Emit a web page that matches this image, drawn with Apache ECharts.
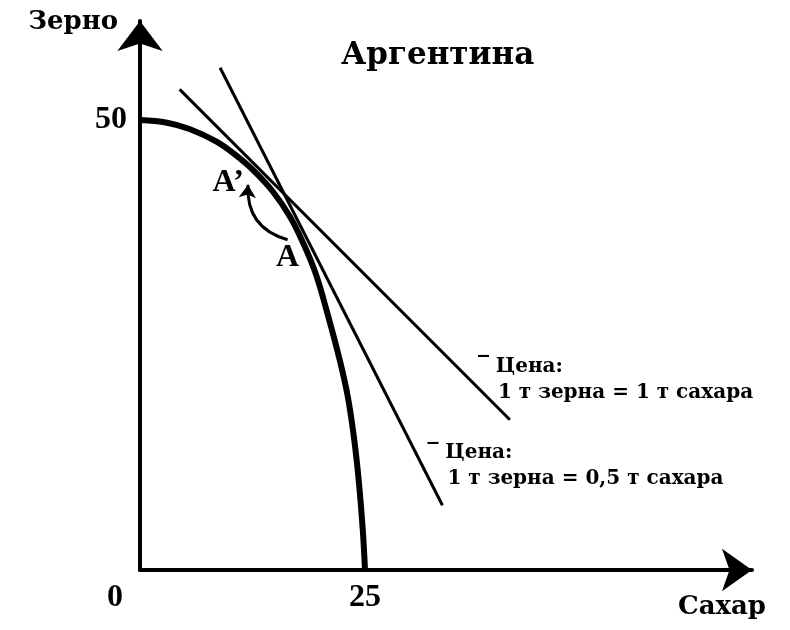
<!DOCTYPE html>
<html>
<head>
<meta charset="utf-8">
<script src="https://cdn.jsdelivr.net/npm/echarts@6/dist/echarts.min.js"></script>
<style>
html,body{margin:0;padding:0;background:#fff;}
#chart{width:790px;height:630px;}
</style>
</head>
<body>
<div id="chart"></div>
<script>
// Production possibility frontier (sugar, grain)
const ppfSugar = [0, 3, 5.5, 8.5, 10.5, 12.6, 14.8, 16.7, 18.1, 19.5, 20.8, 22.2, 23.1, 23.8, 24.3, 24.75, 25];
const ppfGrain = [50, 49.7, 49, 47.6, 46.2, 44.4, 42, 39.2, 36.4, 33, 28.6, 23.3, 19.2, 14.5, 10, 4.5, 0];
// Price lines: [start, end] as [sugar, grain]
const priceLine1 = [[4.4, 53.4], [41.1, 16.7]];   // 1 т зерна = 1 т сахара
const priceLine2 = [[8.9, 55.8], [33.6, 7.2]];    // 1 т зерна = 0,5 т сахара
const priceLabels = ['Цена:', '1 т зерна = 1 т сахара', 'Цена:', '1 т зерна = 0,5 т сахара'];
// Points A, A' labels and move arrow (A -> A')
const pointNames = ['A’', 'A'];
const pointPos = [[9.8, 43.0], [16.4, 34.7]];
const moveArrow = [[16.4, 36.7], [12.0, 42.8]];
// Axis tick labels
const xTicks = [0, 25];
const yTicks = [50];
const titleText = 'Аргентина';
const xName = 'Сахар';
const yName = 'Зерно';

const chart = echarts.init(document.getElementById('chart'));
const black = '#000';
const serifW = '"DejaVu Serif", serif';
const serifT = '"Liberation Serif", "Times New Roman", serif';

const ppfData = ppfSugar.map((x, i) => [x, ppfGrain[i]]);

function priceLabel(a, b, dx, dy) {
  return {
    show: true,
    position: [dx, dy],
    formatter: '{d|‾}{a| ' + a + '}\n{b|' + b + '}',
    rich: {
      d: {fontFamily: serifW, fontWeight: 'bold', fontSize: 22, lineHeight: 26, color: black},
      a: {fontFamily: serifW, fontWeight: 'bold', fontSize: 20, lineHeight: 26, color: black},
      b: {fontFamily: serifW, fontWeight: 'bold', fontSize: 20, lineHeight: 26, color: black, padding: [0, 0, 0, 20]}
    }
  };
}

chart.setOption({
  animation: false,
  backgroundColor: '#fff',
  title: {
    text: titleText,
    left: 336,
    top: 35,
    textStyle: {fontFamily: serifW, fontWeight: 'bold', fontSize: 31, color: black}
  },
  grid: {left: 140, right: 38, top: 21, bottom: 60, containLabel: false},
  xAxis: {
    type: 'value', min: 0, max: 68,
    name: xName, nameLocation: 'end', nameGap: 14,
    nameTextStyle: {fontFamily: serifW, fontWeight: 'bold', fontSize: 26, lineHeight: 26, color: black,
      align: 'right', verticalAlign: 'top', padding: [24, 0, 0, 0]},
    axisLine: {show: true, lineStyle: {color: black, width: 4}, symbol: ['none', 'arrow'], symbolSize: [32, 30]},
    axisTick: {show: false},
    splitLine: {show: false},
    axisLabel: {
      customValues: xTicks, margin: 12, color: black,
      fontFamily: serifT, fontWeight: 'bold', fontSize: 32,
      formatter: v => v === 0 ? '{o|0}' : '{n|' + v + '}',
      rich: {
        o: {fontFamily: serifT, fontWeight: 'bold', fontSize: 32, color: black, padding: [0, 50, 0, 0]},
        n: {fontFamily: serifT, fontWeight: 'bold', fontSize: 32, color: black}
      }
    }
  },
  yAxis: {
    type: 'value', min: 0, max: 61,
    name: yName, nameLocation: 'end', nameGap: -1,
    nameTextStyle: {fontFamily: serifW, fontWeight: 'bold', fontSize: 26, color: black,
      align: 'right', verticalAlign: 'middle', padding: [0, 22, 0, 0]},
    axisLine: {show: true, lineStyle: {color: black, width: 4}, symbol: ['none', 'arrow'], symbolSize: [34, 30]},
    axisTick: {show: false},
    splitLine: {show: false},
    axisLabel: {
      customValues: yTicks, margin: 13, color: black,
      fontFamily: serifT, fontWeight: 'bold', fontSize: 32
    }
  },
  series: [
    {
      type: 'line', name: 'ppf', data: ppfData, smooth: 0.4, showSymbol: false, symbol: 'none',
      lineStyle: {color: black, width: 6}, z: 3
    },
    {
      type: 'line', name: 'p1', data: priceLine1, showSymbol: false, symbol: 'none',
      lineStyle: {color: black, width: 3}, z: 2
    },
    {
      type: 'line', name: 'p2', data: priceLine2, showSymbol: false, symbol: 'none',
      lineStyle: {color: black, width: 3}, z: 2
    },
    {
      type: 'scatter', name: 'priceText', symbolSize: 0, silent: true,
      itemStyle: {opacity: 1},
      data: [
        {value: priceLine1[1], label: priceLabel(priceLabels[0], priceLabels[1], -32, -66)},
        {value: priceLine2[1], label: priceLabel(priceLabels[2], priceLabels[3], -15, -65)}
      ]
    },
    {
      type: 'scatter', name: 'points', symbolSize: 0, silent: true,
      itemStyle: {opacity: 1},
      data: pointPos.map((p, i) => ({value: p, name: pointNames[i]})),
      label: {show: true, position: 'inside', formatter: '{b}', color: black,
        fontFamily: serifT, fontWeight: 'bold', fontSize: 32}
    },
    {
      type: 'lines', coordinateSystem: 'cartesian2d', silent: true,
      symbol: ['none', 'arrow'], symbolSize: 13,
      lineStyle: {color: black, width: 3, curveness: 0.4, opacity: 1},
      data: [{coords: moveArrow}]
    }
  ]
});
</script>
</body>
</html>
